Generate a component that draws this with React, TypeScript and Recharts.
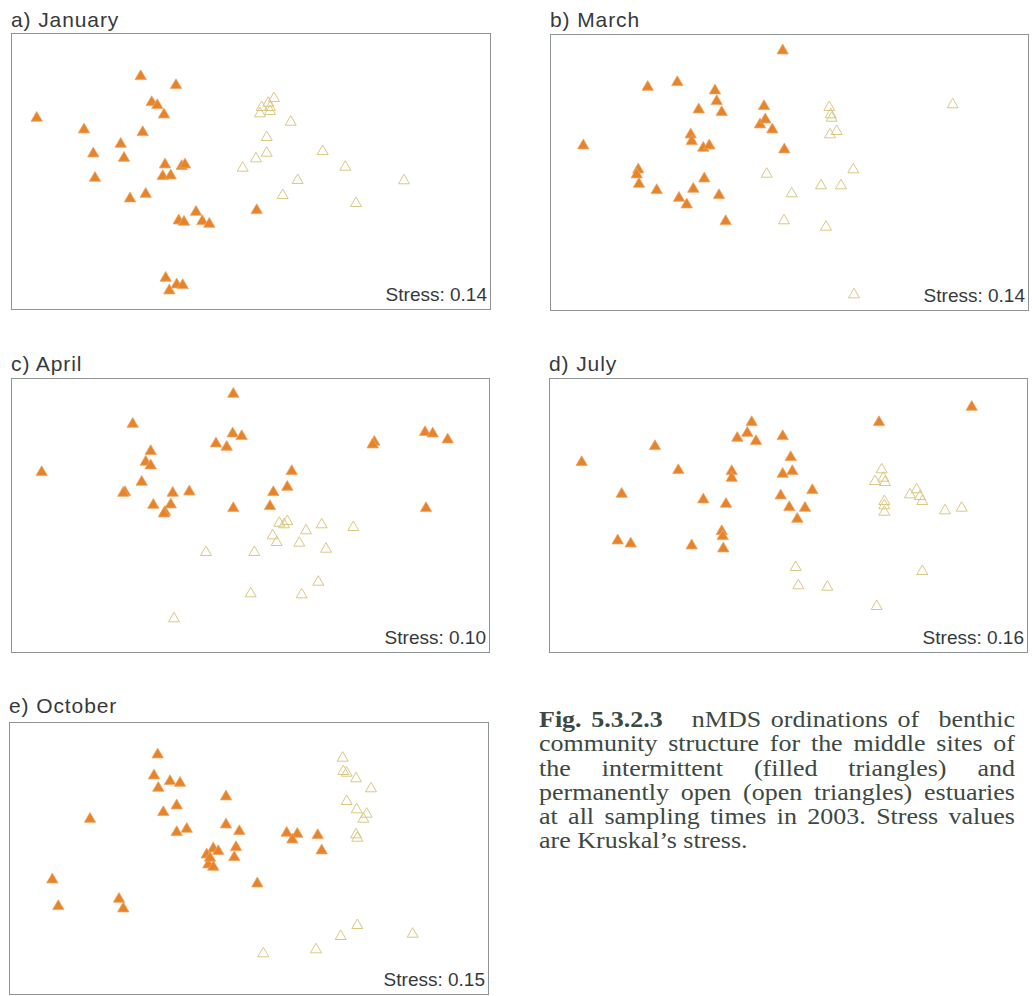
import React from 'react';
import { ScatterChart, Scatter, XAxis, YAxis } from 'recharts';

type P = [number, number];

const panelTitles = ['a) January', 'b) March', 'c) April', 'd) July', 'e) October'];
const stressValues = ['0.14', '0.14', '0.10', '0.16', '0.15'];

// ordination scores, filled = intermittent, open = permanently open
const janFilled: P[] = [
  [129.7, 235], [165, 226], [25.7, 193.3], [140.7, 209], [146.3, 206], [153, 196.7], [73, 181.7],
  [131.7, 179], [109.7, 167.3], [82.3, 157.7], [113, 153.3], [154, 146.7], [170.7, 145], [174, 146.7],
  [151.7, 135], [159.7, 135.7], [84, 133.3], [119, 112.7], [134.7, 117.3], [185, 99.3], [167.7, 90.7],
  [173, 89.3], [191.3, 90], [198.3, 87.3], [245.7, 101], [154.7, 33.3], [158.3, 20.7], [165.7, 26.7],
  [171.7, 26],
];
const janOpen: P[] = [
  [263, 213], [257.3, 208.3], [250.7, 204], [259, 204], [249, 197.7], [259, 200], [279.7, 189.3],
  [255.7, 174], [311.7, 160], [255.7, 158.3], [245, 152.7], [231.7, 143.3], [334.3, 144.3],
  [286.7, 131], [393, 130.7], [271.7, 116], [345, 108],
];

const marFilled: P[] = [
  [232.7, 261.7], [97.7, 225.3], [127.3, 230], [165, 221.7], [166.7, 211], [171.7, 200], [148.7, 202.7],
  [214, 206], [210, 187.7], [215.3, 192.7], [222.3, 182.7], [33.3, 166.7], [140.7, 177.7], [141.7, 171],
  [153.3, 164.3], [159.3, 166.7], [234.3, 162.7], [88.3, 142.7], [86.7, 137.7], [89, 128.3], [106.7, 122],
  [143.3, 123.3], [154.3, 133.7], [129, 114.3], [136.7, 107.7], [169, 117], [175.7, 91],
];
const marOpen: P[] = [
  [279.3, 205], [280.7, 197.7], [281.7, 194.3], [280, 177.7], [286.7, 181], [402.7, 207.7], [216.7, 138.3],
  [303.3, 142.7], [271, 126.7], [291, 126.7], [241.7, 118.7], [234, 91.7], [276, 85.3], [304, 17.7],
];

const aprFilled: P[] = [
  [222.3, 260.3], [121.7, 230.3], [221.7, 220.7], [230.7, 218], [205, 210.7], [215.7, 207.3], [363.3, 212.3],
  [361.7, 209.7], [414, 222], [421.7, 220.7], [436.7, 214.7], [139.7, 203], [134.7, 192.3], [139.7, 188.7],
  [30.7, 182], [280.7, 183], [130.7, 172.3], [114, 162], [112.3, 161.3], [161.7, 161.3], [178.3, 162.7],
  [262.3, 162], [276.3, 167.3], [142.3, 149.3], [159.7, 149.7], [154, 142.3], [153, 140.7], [222.3, 146],
  [259, 148], [415, 146],
];
const aprOpen: P[] = [
  [268.3, 131.3], [276.3, 133], [273, 129.7], [310.7, 129.7], [342.3, 127], [295, 123.7], [261.7, 118.7],
  [265.7, 112], [288.3, 111.3], [315, 105.3], [195, 102], [243.3, 102], [307.3, 72.3], [239.7, 60.7],
  [290.7, 59.7], [163, 35.7],
];

const julFilled: P[] = [
  [422.7, 247.3], [330, 232], [202.7, 232], [198.3, 221.3], [188.3, 216.3], [207, 213], [233.7, 218],
  [106, 208], [32.7, 192], [241.7, 197], [129.3, 184], [182.7, 183], [182.7, 176.3], [233.7, 180.3],
  [243.3, 183], [72.7, 160.3], [263.3, 164], [231.7, 158.7], [154.3, 154.7], [177, 150.3], [240.3, 147],
  [256, 146.3], [248.3, 135.3], [172.7, 123], [173.7, 118], [68.7, 113.7], [81.7, 110.7], [142.7, 108.7],
  [174.3, 105.7],
];
const julOpen: P[] = [
  [332.7, 184.7], [326, 173], [334.3, 176.3], [336, 172], [335.3, 153], [335.3, 148.7], [335.3, 142.3],
  [361, 159.7], [367.7, 164.7], [371, 158], [373.3, 153], [396, 143.7], [412.7, 146.3], [246.7, 87],
  [249.3, 68.7], [278.3, 67.3], [373.3, 83], [327.7, 48],
];

const octFilled: P[] = [
  [148.7, 241.7], [145, 220.7], [149.3, 208.3], [161, 215], [171, 213.3], [167.7, 190.7], [154.3, 184],
  [81, 177.3], [217, 199.7], [217, 171.7], [230.3, 165], [167.7, 164], [177.7, 167.3], [277.7, 163.3],
  [288.3, 162.3], [283.3, 156.7], [308.7, 161], [312.7, 145.7], [227, 149], [225.3, 139], [204.3, 147.7],
  [209.3, 145], [197.7, 141.7], [199.3, 131.7], [204.3, 129.3], [201, 138.3], [248.3, 112.7], [43.3, 116.7],
  [49.3, 90], [110, 97.3], [114.3, 87.7],
];
const octOpen: P[] = [
  [333.7, 238.3], [334.3, 225], [337.7, 223.3], [347, 217.7], [362, 207.7], [337.7, 195], [347.7, 186.7],
  [357.7, 182.3], [354.3, 177.3], [347, 161.7], [348.3, 158.3], [254.3, 42.7], [307, 46.7], [331.7, 60],
  [348.3, 71], [403.7, 62.3],
];

const filledSets = [janFilled, marFilled, aprFilled, julFilled, octFilled];
const openSets = [janOpen, marOpen, aprOpen, julOpen, octOpen];

// layout
const boxes = [
  { left: 11, top: 33, w: 480, h: 277, titleTop: 8 },
  { left: 550, top: 34, w: 479, h: 277, titleTop: 8 },
  { left: 11, top: 378, w: 479, h: 275, titleTop: 352 },
  { left: 549, top: 378, w: 479, h: 275, titleTop: 352 },
  { left: 9, top: 722, w: 480, h: 273, titleTop: 694 },
];

const captionLines = [
  'community structure for the middle sites of',
  'the intermittent (filled triangles) and',
  'permanently open (open triangles) estuaries',
  'at all sampling times in 2003. Stress values',
];

const FILL = '#e6832b';
const OPEN = '#d9c884';

const FilledTri = (props: any) => {
  const { cx, cy } = props;
  if (cx == null || cy == null) return null;
  return (
    <polygon
      points={`${cx},${cy - 5.2} ${cx + 5.7},${cy + 4.6} ${cx - 5.7},${cy + 4.6}`}
      fill={FILL}
      stroke="#eea461"
      strokeWidth={0.8}
    />
  );
};

const OpenTri = (props: any) => {
  const { cx, cy } = props;
  if (cx == null || cy == null) return null;
  return (
    <polygon
      points={`${cx},${cy - 5} ${cx + 5.5},${cy + 4.5} ${cx - 5.5},${cy + 4.5}`}
      fill="none"
      stroke={OPEN}
      strokeWidth={1}
    />
  );
};

const toObj = (arr: P[]) => arr.map(([x, y]) => ({ x, y }));

function Panel({ i }: { i: number }) {
  const b = boxes[i];
  return (
    <>
      <div
        style={{
          position: 'absolute',
          left: b.left,
          top: b.titleTop,
          fontFamily: 'Liberation Sans, Arial, sans-serif',
          fontSize: 21,
          letterSpacing: 0.9,
          color: '#36393c',
          lineHeight: '24px',
          whiteSpace: 'nowrap',
        }}
      >
        {panelTitles[i]}
      </div>
      <div style={{ position: 'absolute', left: b.left, top: b.top, width: b.w, height: b.h }}>
        <ScatterChart width={b.w} height={b.h} margin={{ top: 0, right: 0, bottom: 0, left: 0 }}>
          <XAxis type="number" dataKey="x" domain={[0, b.w]} hide />
          <YAxis type="number" dataKey="y" domain={[0, b.h]} hide />
          <Scatter data={toObj(openSets[i])} shape={OpenTri} isAnimationActive={false} />
          <Scatter data={toObj(filledSets[i])} shape={FilledTri} isAnimationActive={false} />
        </ScatterChart>
      </div>
      <div
        style={{
          position: 'absolute',
          left: b.left,
          top: b.top,
          width: b.w,
          height: b.h,
          border: '1px solid #8e9398',
          boxSizing: 'border-box',
          pointerEvents: 'none',
        }}
      />
      <div
        style={{
          position: 'absolute',
          left: b.left,
          top: b.top + b.h - 26,
          width: b.w - 4,
          textAlign: 'right',
          fontFamily: 'Liberation Sans, Arial, sans-serif',
          fontSize: 19,
          color: '#36393c',
          lineHeight: '22px',
          whiteSpace: 'nowrap',
        }}
      >
        Stress: {stressValues[i]}
      </div>
    </>
  );
}

export default function App() {
  const scale = 1.13;
  const lineStyle: React.CSSProperties = {
    textAlign: 'justify',
    textAlignLast: 'justify',
    height: 24.3,
    whiteSpace: 'normal',
  };
  return (
    <div style={{ position: 'absolute', left: 0, top: 0, width: 1032, height: 996, background: '#fff', overflow: 'hidden' }}>
      {boxes.map((_, i) => (
        <Panel key={i} i={i} />
      ))}
      <div
        style={{
          position: 'absolute',
          left: 539,
          top: 708,
          width: 476 / scale,
          transform: `scaleX(${scale})`,
          transformOrigin: 'left top',
          fontFamily: 'Liberation Serif, Times New Roman, serif',
          fontSize: 23,
          lineHeight: '24.3px',
          color: '#3c4842',
        }}
      >
        <div style={lineStyle}>
          <b>Fig. 5.3.2.3</b>&nbsp;&nbsp; nMDS ordinations of&nbsp; benthic
        </div>
        {captionLines.map((l, k) => (
          <div key={k} style={lineStyle}>
            {l}
          </div>
        ))}
        <div style={{ textAlign: 'left', height: 24.3 }}>are Kruskal’s stress.</div>
      </div>
    </div>
  );
}
